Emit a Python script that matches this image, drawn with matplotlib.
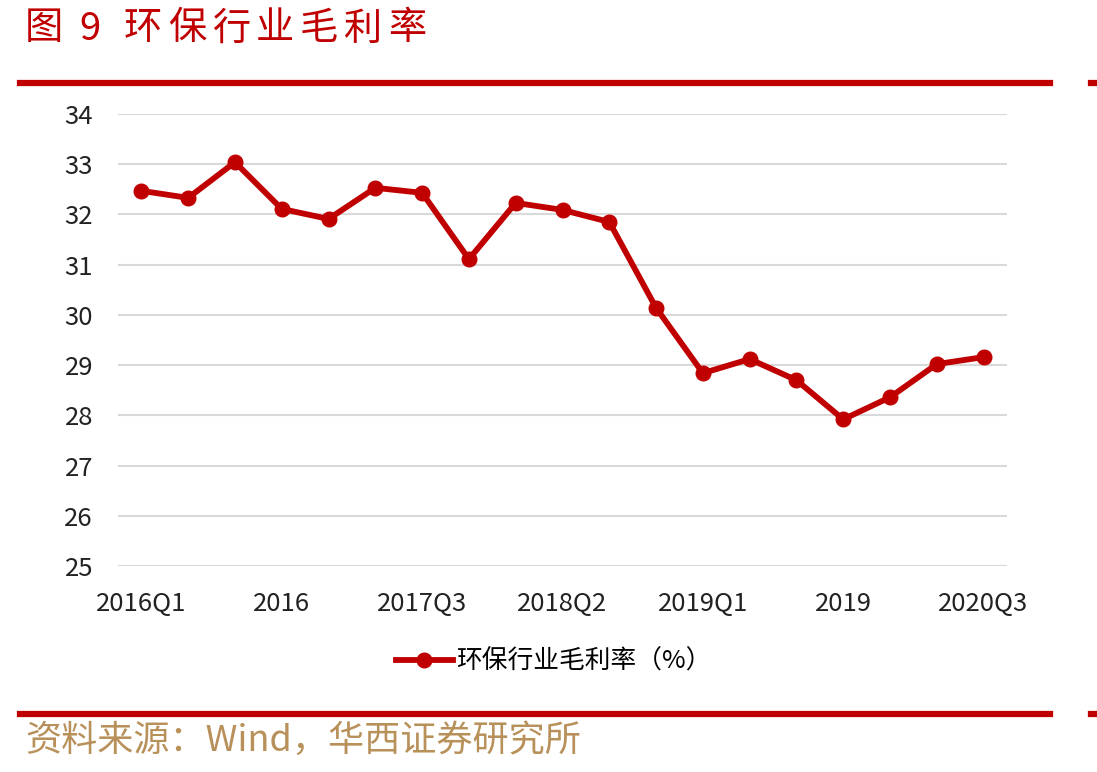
import matplotlib
matplotlib.use("Agg")
import matplotlib.pyplot as plt
from matplotlib.lines import Line2D

plt.rcParams['font.family'] = ['Noto Sans CJK SC', 'DejaVu Sans']

quarters = ["2016Q1", "2016Q2", "2016Q3", "2016", "2017Q1", "2017Q2", "2017Q3",
            "2017", "2018Q1", "2018Q2", "2018Q3", "2018", "2019Q1", "2019Q2",
            "2019Q3", "2019", "2020Q1", "2020Q2", "2020Q3"]
margin = [32.47, 32.33, 33.04, 32.11, 31.91, 32.53, 32.43, 31.11, 32.23, 32.09,
          31.85, 30.14, 28.84, 29.12, 28.70, 27.92, 28.36, 29.02, 29.16]
shown_ticks = [0, 3, 6, 9, 12, 15, 18]
yticks = [25, 26, 27, 28, 29, 30, 31, 32, 33, 34]
series_name = "环保行业毛利率（%）"
title_fig = "图"
title_num = "9"
title_text = "环保行业毛利率"
source = "资料来源：Wind，华西证券研究所"

W, H = 1097, 772
fig = plt.figure(figsize=(W / 100, H / 100), dpi=100)
ax = fig.add_axes([118 / W, (H - 566) / H, 889 / W, 452 / H])

red = "#C00000"
x = list(range(len(margin)))
ax.plot(x, margin, color=red, lw=4.2, marker='o', markersize=10.5,
        solid_joinstyle='round', zorder=3)

ax.set_xlim(-0.5, len(margin) - 0.5)
ax.set_ylim(25, 34)
ax.set_yticks(yticks)
ax.set_yticklabels([str(v) for v in yticks], fontsize=18.5, color="#222222")
ax.set_xticks(shown_ticks)
ax.set_xticklabels([quarters[i] for i in shown_ticks], fontsize=18.5, color="#222222")
ax.tick_params(axis='x', length=0, pad=18)
ax.tick_params(axis='y', length=0, pad=18)
ax.grid(axis='y', color="#D9D9D9", lw=1.5)
for s in ax.spines.values():
    s.set_visible(False)

handle = Line2D([0], [0], color=red, lw=4.2, marker='o', markersize=10.5)
fig.legend([handle], [series_name], loc='center', bbox_to_anchor=(554 / W, 1 - 662 / H),
           frameon=False, fontsize=18.5, handlelength=2.2, handletextpad=0.15)

ty = 1 - 29 / H
fig.text(25 / W, ty, title_fig, fontsize=27.5, color=red, va='center', ha='left')
fig.text(79 / W, ty, title_num, fontsize=27.5, color=red, va='center', ha='left')
for i, ch in enumerate(title_text):
    fig.text((124 + i * 44) / W, ty, ch, fontsize=27.5, color=red,
             va='center', ha='left')
fig.add_artist(Line2D([20 / W, 1050 / W], [1 - 83 / H] * 2, color=red, lw=4.5))
fig.add_artist(Line2D([1091 / W, 1095 / W], [1 - 83 / H] * 2, color=red, lw=4.5))
fig.add_artist(Line2D([20 / W, 1050 / W], [1 - 714 / H] * 2, color=red, lw=4.5))
fig.add_artist(Line2D([1091 / W, 1095 / W], [1 - 714 / H] * 2, color=red, lw=4.5))
fig.text(25 / W, 1 - 741 / H, source, fontsize=26, color="#B8905A", va='center', ha='left')

fig.savefig("out.png", dpi=100)
